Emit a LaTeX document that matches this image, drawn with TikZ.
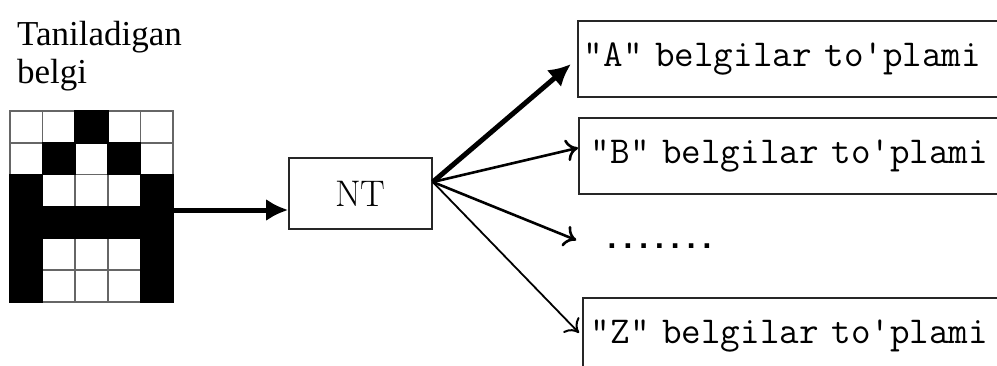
\documentclass[tikz,border=0pt]{standalone}
\usepackage{fontspec}
\newfontfamily\labelfont{Liberation Serif}
\newfontfamily\dotfont{Liberation Mono}[LetterSpace=-10.6]
\usetikzlibrary{arrows.meta,calc}
\begin{document}
\begin{tikzpicture}[x=1pt,y=1pt,
  cellline/.style={draw=black!60,line width=1.5pt},
  fatarrow/.style={line width=5pt,-{Latex[length=22pt,width=22pt]}},
  thinarrow/.style={line width=2.6pt,-{Computer Modern Rightarrow[length=12pt,width=22pt,line width=2.6pt]}},
  finearrow/.style={line width=1.8pt,-{Computer Modern Rightarrow[length=12pt,width=22pt,line width=2pt]}},
  netbox/.style={draw=black!85,line width=1.6pt,minimum width=143pt,minimum height=71pt,
    font=\fontsize{37}{37}\selectfont},
  classbox/.style={draw=black!85,line width=1.8pt,anchor=north west,minimum height=76pt,
    text width=430pt,align=left,inner xsep=8pt,inner ysep=0pt,
    font=\ttfamily\fontsize{38}{38}\selectfont}]
\path[use as bounding box,clip] (0,0) rectangle (997,365);

% caption above the input symbol
\node[anchor=north west,inner sep=0pt,align=left,
  font=\labelfont\fontsize{35}{38}\selectfont] (caption) at (17,344) {Taniladigan\\belgi};

% 5x6 pixel grid of the input symbol
\def\cw{32.6}
\def\ch{31.83}
\foreach \r in {0,...,5}{
  \foreach \c in {0,...,4}{
    \draw[cellline] (10+\c*\cw,254-\r*\ch) rectangle ++(\cw,-\ch);
  }
}
\foreach \pat [count=\r from 0] in {{0,0,1,0,0},{0,1,0,1,0},{1,0,0,0,1},{1,1,1,1,1},{1,0,0,0,1},{1,0,0,0,1}}{
  \foreach \b [count=\c from 0] in \pat {
    \ifnum\b=1
      \fill[black] (10+\c*\cw-0.75,254-\r*\ch+0.75) rectangle ++(\cw+1.5,-\ch-1.5);
    \fi
  }
}
\node[minimum width=163pt,minimum height=191pt,inner sep=0pt,outer sep=0pt] (grid) at (91.5,158.5) {};

% network
\node[netbox] (nt) at (360.5,171.5) {NT};

% output classes
\node[classbox,inner xsep=6pt] (A) at (577,345) {"A" belgilar to'plami};
\node[classbox,inner xsep=12pt] (B) at (578,248) {"B" belgilar to'plami};
\node[anchor=base,inner sep=0pt,font=\dotfont\bfseries\fontsize{32}{32}\selectfont] (dots) at (659.5,116.5) {.......};
\node[classbox] (Z) at (582,68) {"Z" belgilar to'plami};

% connectors
\coordinate (gout) at ($(grid.east)+(0,-3.5)$);
\draw[fatarrow] (gout) -- (gout -| nt.west);
\coordinate (o) at ($(nt.east)+(0,11.5)$);
\draw[fatarrow,shorten >=8pt] (o) -- (A.west);
\draw[thinarrow] (o) -- ($(B.west)+(0,8)$);
\draw[thinarrow] (o) -- ($(dots.west)+(-26,6)$);
\draw[finearrow] (o) -- ($(Z.west)+(-3,3)$);
\end{tikzpicture}
\end{document}
